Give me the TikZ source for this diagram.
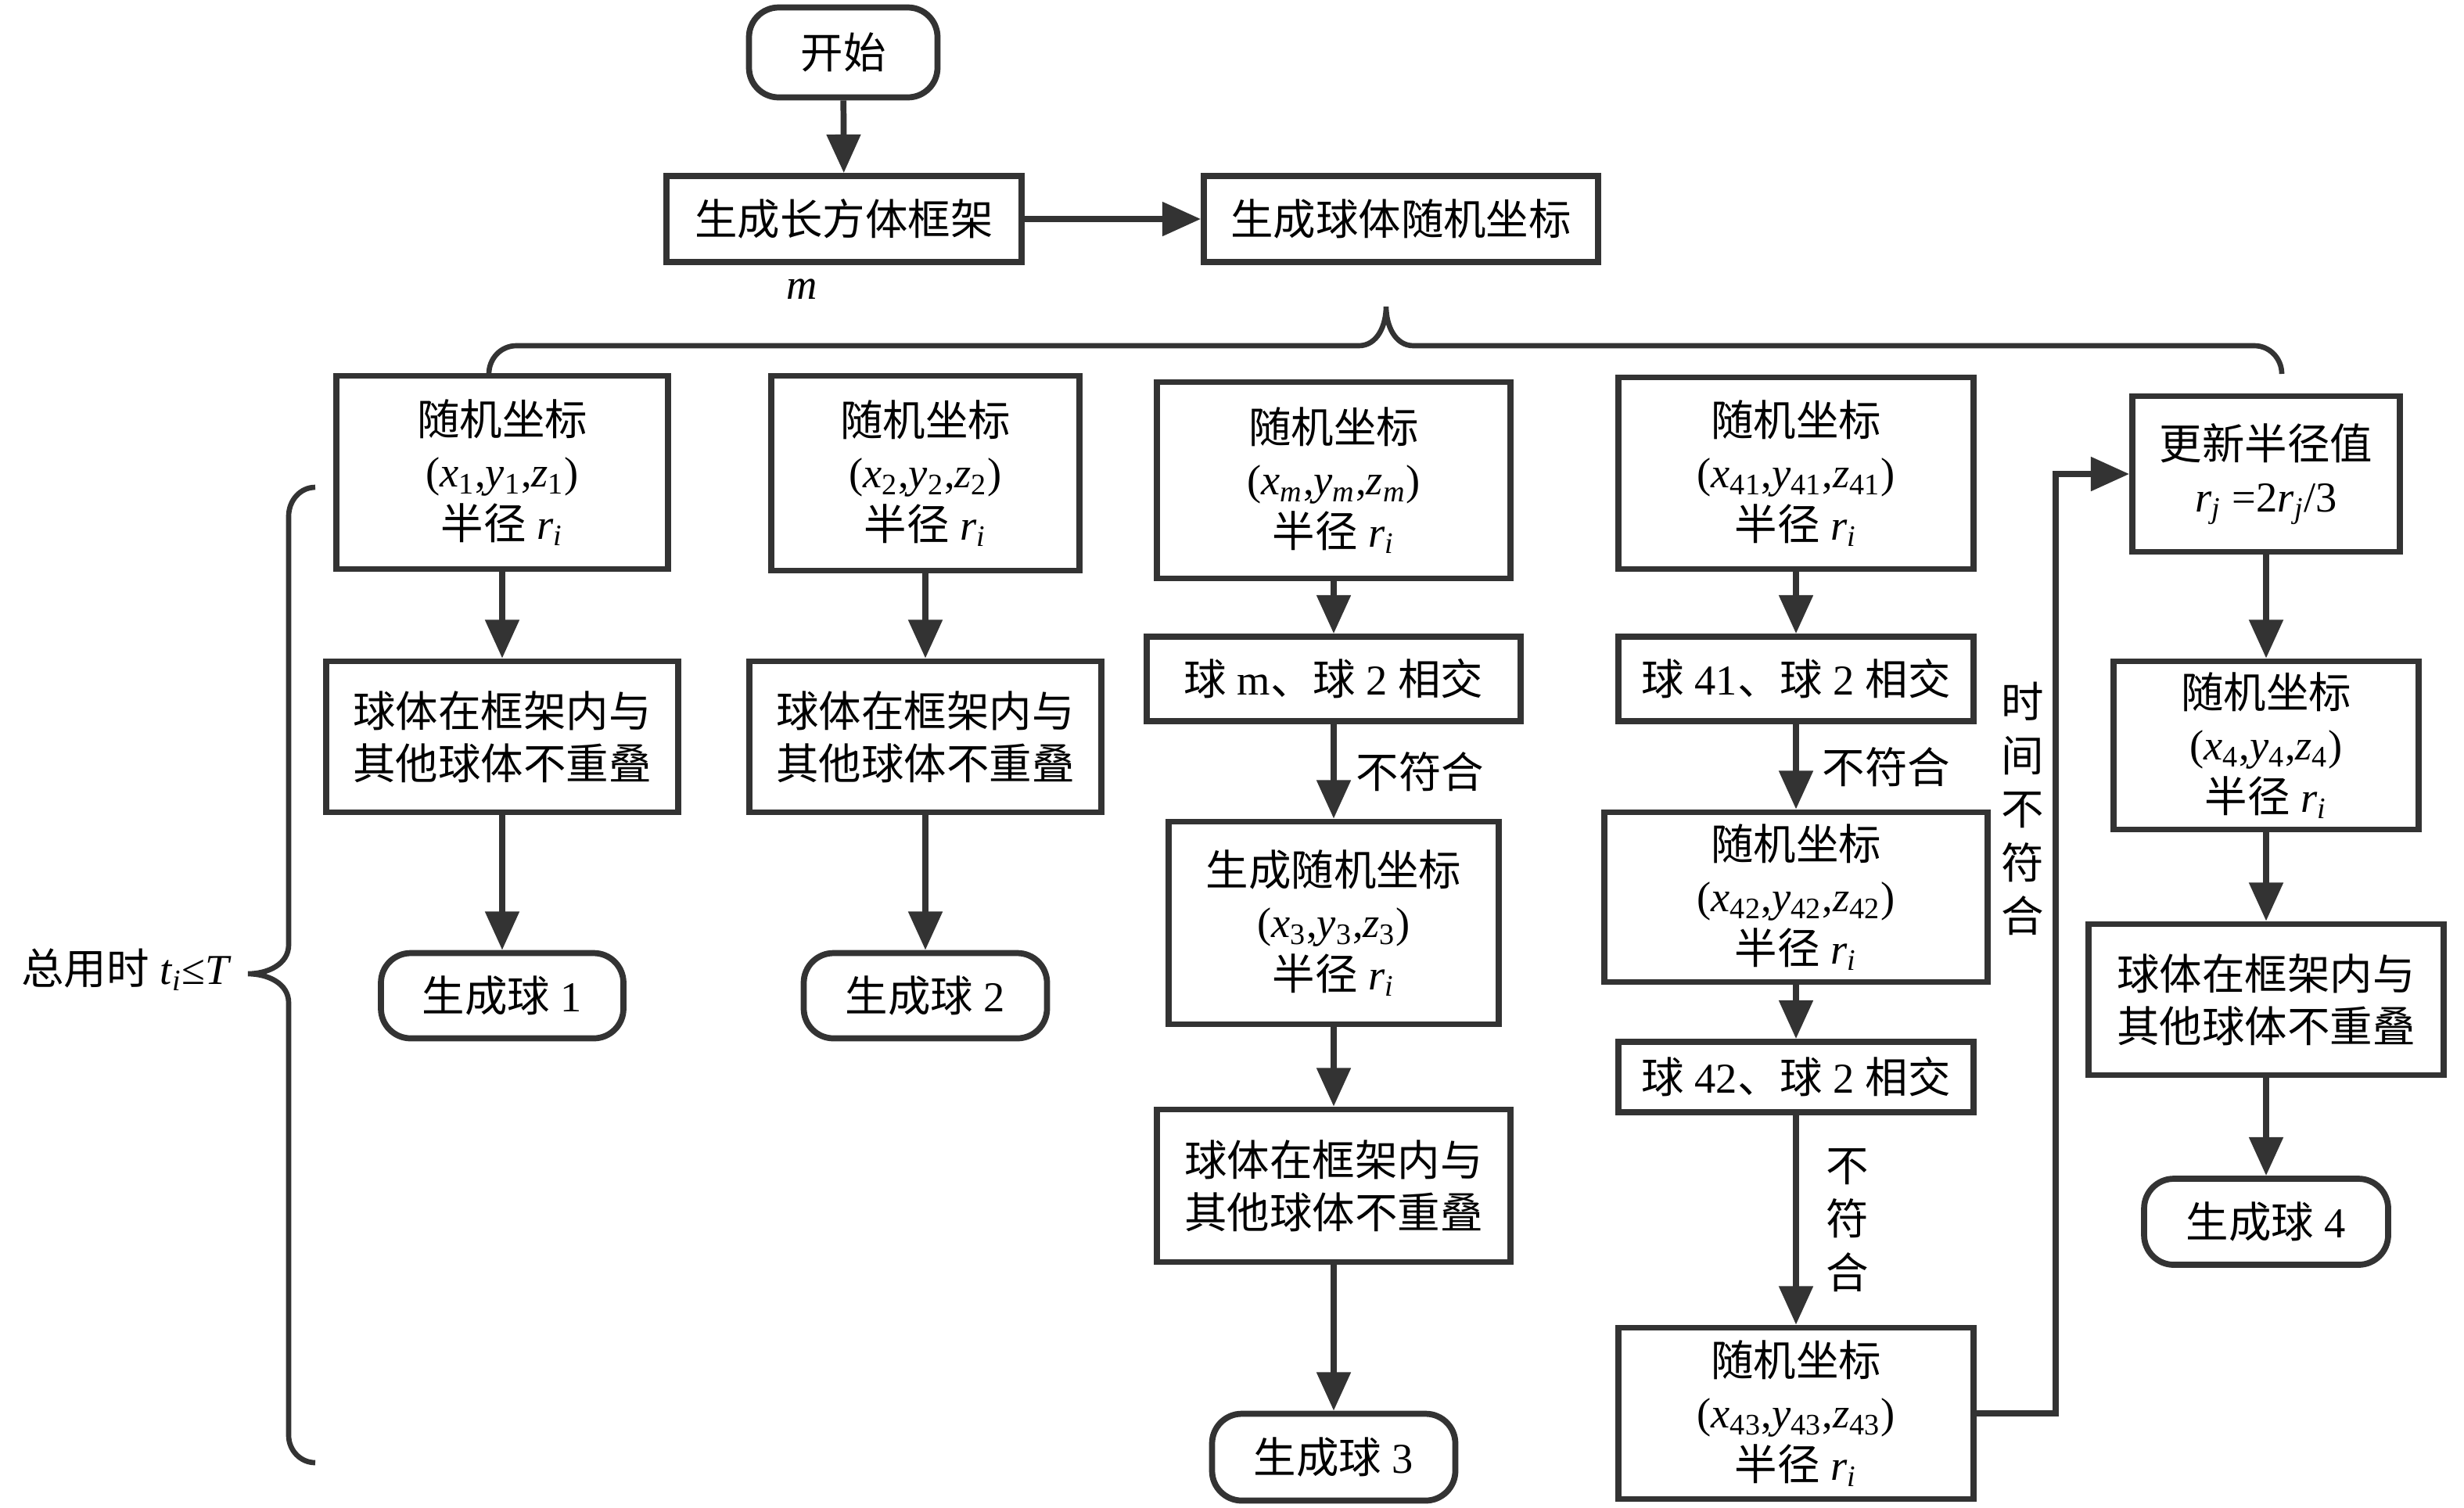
\RequirePackage{fix-cm}
\documentclass[tikz,border=0pt]{standalone}
\usepackage{fontspec}
\setmainfont{Liberation Serif}
\newfontfamily\cjk{Noto Sans CJK SC}
\newcommand{\zh}[1]{{\cjk #1}}
\newcommand{\crd}[1]{(\textit{x}\textsubscript{#1},\textit{y}\textsubscript{#1},\textit{z}\textsubscript{#1})}
\newcommand{\rad}{\zh{半径} \textit{r}\textsubscript{\textit{i}}}
\usetikzlibrary{arrows.meta}
\definecolor{ink}{HTML}{333333}
\begin{document}
\begin{tikzpicture}[
  every node/.style={font=\fontsize{15.5}{19}\selectfont, align=center, inner sep=0pt},
  box/.style={draw=ink, line width=2.2pt, fill=white},
  term/.style={box, rounded corners=0.38cm},
  arr/.style={draw=ink, line width=2.2pt, -{Triangle[length=14pt,width=12pt]}},
  brc/.style={draw=ink, line width=1.9pt}]
 \useasboundingbox (0,0) rectangle (31.5,-19.27);
 % top row
 \node[term, minimum width=2.41cm, minimum height=1.15cm] (start) at (10.78,-0.67) {\zh{开始}};
 \node[box, minimum width=4.54cm, minimum height=1.10cm] (frame) at (10.79,-2.80) {\zh{生成长方体框架}};
 \node[box, minimum width=5.04cm, minimum height=1.10cm] (coord) at (17.91,-2.80) {\zh{生成球体随机坐标}};
 \node (mlab) at (10.25,-3.70) {\textit{m}};
 \draw[arr] (start) -- (frame);
 \draw[arr] (frame) -- (coord);
 % brace over the columns
 \draw[brc] (6.25,-4.78) to[out=90,in=180] (6.6,-4.42) -- (17.37,-4.42) to[out=0,in=-90] (17.72,-3.92)
   to[out=-90,in=180] (18.07,-4.42) -- (28.82,-4.42) to[out=0,in=90] (29.17,-4.78);
 % column 1
 \node[box, minimum width=4.24cm, minimum height=2.47cm] (r1) at (6.42,-6.04) {\zh{随机坐标}\\\crd{1}\\\rad};
 \node[box, minimum width=4.50cm, minimum height=1.93cm] (c1) at (6.42,-9.42) {\zh{球体在框架内与}\\\zh{其他球体不重叠}};
 \node[term, minimum width=3.10cm, minimum height=1.09cm] (e1) at (6.42,-12.73) {\zh{生成球} 1};
 \draw[arr] (r1) -- (c1);
 \draw[arr] (c1) -- (e1);
 % column 2
 \node[box, minimum width=3.94cm, minimum height=2.49cm] (r2) at (11.83,-6.05) {\zh{随机坐标}\\\crd{2}\\\rad};
 \node[box, minimum width=4.50cm, minimum height=1.93cm] (c2) at (11.83,-9.42) {\zh{球体在框架内与}\\\zh{其他球体不重叠}};
 \node[term, minimum width=3.11cm, minimum height=1.09cm] (e2) at (11.83,-12.73) {\zh{生成球} 2};
 \draw[arr] (r2) -- (c2);
 \draw[arr] (c2) -- (e2);
 % column 3
 \node[box, minimum width=4.52cm, minimum height=2.51cm] (rm) at (17.05,-6.14) {\zh{随机坐标}\\\crd{\textit{m}}\\\rad};
 \node[box, minimum width=4.78cm, minimum height=1.08cm] (im) at (17.05,-8.68) {\zh{球} m\zh{、球} 2 \zh{相交}};
 \node[box, minimum width=4.22cm, minimum height=2.59cm] (r3) at (17.05,-11.80) {\zh{生成随机坐标}\\\crd{3}\\\rad};
 \node[box, minimum width=4.52cm, minimum height=1.95cm] (cm) at (17.05,-15.16) {\zh{球体在框架内与}\\\zh{其他球体不重叠}};
 \node[term, minimum width=3.11cm, minimum height=1.11cm] (e3) at (17.05,-18.63) {\zh{生成球} 3};
 \draw[arr] (rm) -- (im);
 \draw[arr] (im) -- node[right=0.25cm] {\zh{不符合}} (r3);
 \draw[arr] (r3) -- (cm);
 \draw[arr] (cm) -- (e3);
 % column 4
 \node[box, minimum width=4.54cm, minimum height=2.45cm] (r41) at (22.96,-6.05) {\zh{随机坐标}\\\crd{41}\\\rad};
 \node[box, minimum width=4.54cm, minimum height=1.08cm] (i41) at (22.96,-8.68) {\zh{球} 41\zh{、球} 2 \zh{相交}};
 \node[box, minimum width=4.90cm, minimum height=2.17cm] (r42) at (22.96,-11.47) {\zh{随机坐标}\\\crd{42}\\\rad};
 \node[box, minimum width=4.54cm, minimum height=0.90cm] (i42) at (22.96,-13.77) {\zh{球} 42\zh{、球} 2 \zh{相交}};
 \node[box, minimum width=4.54cm, minimum height=2.19cm] (r43) at (22.96,-18.07) {\zh{随机坐标}\\\crd{43}\\\rad};
 \draw[arr] (r41) -- (i41);
 \draw[arr] (i41) -- node[right=0.3cm] {\zh{不符合}} (r42);
 \draw[arr] (r42) -- (i42);
 \draw[arr] (i42) -- node[right=0.35cm, font=\fontsize{15.5}{19.5}\selectfont] {\zh{不}\\\zh{符}\\\zh{合}} (r43);
 % column 5
 \node[box, minimum width=3.42cm, minimum height=1.99cm] (upd) at (28.97,-6.06) {\zh{更新半径值}\\\textit{r}\textsubscript{\textit{j}} =2\textit{r}\textsubscript{\textit{j}}/3};
 \node[box, minimum width=3.90cm, minimum height=2.15cm] (r4) at (28.97,-9.53) {\zh{随机坐标}\\\crd{4}\\\rad};
 \node[box, minimum width=4.54cm, minimum height=1.93cm] (c4) at (28.97,-12.78) {\zh{球体在框架内与}\\\zh{其他球体不重叠}};
 \node[term, minimum width=3.12cm, minimum height=1.10cm] (e4) at (28.97,-15.62) {\zh{生成球} 4};
 \draw[arr] (upd) -- (r4);
 \draw[arr] (r4) -- (c4);
 \draw[arr] (c4) -- (e4);
 % time-out loop
 \draw[arr] (r43.east) -- ++(1.01,0) |- (upd.west);
 \node[font=\fontsize{15.5}{19.5}\selectfont] (late) at (25.86,-10.34) {\zh{时}\\\zh{间}\\\zh{不}\\\zh{符}\\\zh{合}};
 % brace on the left
 \draw[brc] (4.03,-6.23) to[out=180,in=90] (3.69,-6.6) -- (3.69,-12.08) to[out=-90,in=0] (3.17,-12.45)
   to[out=0,in=90] (3.69,-12.82) -- (3.69,-18.35) to[out=-90,in=180] (4.03,-18.70);
 \node[anchor=east] (total) at (2.97,-12.40) {\zh{总用时} \textit{t}\textsubscript{\textit{i}}≤\textit{T}};
\end{tikzpicture}
\end{document}
